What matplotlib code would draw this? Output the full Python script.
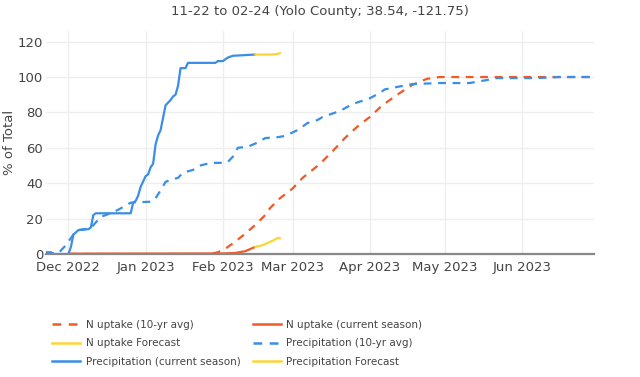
import pandas as pd
import matplotlib
matplotlib.use("Agg")
import matplotlib.pyplot as plt
from matplotlib.lines import Line2D

# values
n_avg_dates = ["2022-12-01", "2023-01-27", "2023-01-30", "2023-02-02", "2023-02-06",
               "2023-02-10", "2023-02-14", "2023-02-18", "2023-02-20", "2023-02-24",
               "2023-03-01", "2023-03-05", "2023-03-09", "2023-03-12", "2023-03-17",
               "2023-03-22", "2023-03-27", "2023-04-01", "2023-04-06", "2023-04-12",
               "2023-04-18", "2023-04-24", "2023-04-29", "2023-06-30"]
n_avg_vals = [0, 0, 1, 3, 7, 11.5, 16.4, 22, 26, 31.6, 37, 43, 47.5, 51, 58,
              65.5, 72, 77.4, 84, 90, 95.5, 99, 100, 100]

n_cur_dates = ["2022-12-01", "2023-02-01", "2023-02-06", "2023-02-10", "2023-02-14"]
n_cur_vals = [0.2, 0.3, 0.6, 1.6, 4]

n_fc_dates = ["2023-02-14", "2023-02-17", "2023-02-21", "2023-02-23", "2023-02-24"]
n_fc_vals = [4, 5, 7.5, 9, 8.8]

p_avg_dates = ["2022-11-22", "2022-11-27", "2022-11-28", "2022-11-30", "2022-12-03",
               "2022-12-05", "2022-12-10", "2022-12-14", "2022-12-16", "2022-12-21",
               "2022-12-26", "2023-01-02", "2023-01-03", "2023-01-05", "2023-01-07",
               "2023-01-09", "2023-01-11", "2023-01-14", "2023-01-16", "2023-01-20",
               "2023-01-23", "2023-01-27", "2023-02-01", "2023-02-03", "2023-02-05",
               "2023-02-07", "2023-02-11", "2023-02-15", "2023-02-18", "2023-02-23",
               "2023-02-26", "2023-03-03", "2023-03-07", "2023-03-11", "2023-03-13",
               "2023-03-20", "2023-03-25", "2023-04-01", "2023-04-05", "2023-04-07",
               "2023-04-12", "2023-04-18", "2023-04-29", "2023-05-11", "2023-05-18",
               "2023-05-22", "2023-06-07", "2023-06-16", "2023-06-30"]
p_avg_vals = [0.5, 0.5, 2, 5, 11, 13.5, 14.7, 21, 22, 25, 29, 29.5, 29.5, 31.5, 36,
              40.7, 42, 43, 46, 47.5, 50, 51.5, 51.5, 52, 55, 60, 60.6, 63, 65.5, 66,
              66.7, 70, 74, 75.7, 77.4, 80.8, 84.7, 88, 91, 93, 94.4, 96, 96.6, 96.6,
              98.3, 99.4, 99.4, 100, 100]

p_cur_dates = ["2022-11-22", "2022-11-24", "2022-11-25", "2022-12-01", "2022-12-02",
               "2022-12-03", "2022-12-05", "2022-12-09", "2022-12-10", "2022-12-11",
               "2022-12-12", "2022-12-26", "2022-12-27", "2022-12-28", "2022-12-29",
               "2022-12-30", "2023-01-01", "2023-01-02", "2023-01-03", "2023-01-04",
               "2023-01-05", "2023-01-06", "2023-01-07", "2023-01-08", "2023-01-09",
               "2023-01-11", "2023-01-12", "2023-01-13", "2023-01-14", "2023-01-15",
               "2023-01-17", "2023-01-18", "2023-01-29", "2023-01-30", "2023-02-01",
               "2023-02-03", "2023-02-05", "2023-02-14"]
p_cur_vals = [1, 1, 0, 0, 4, 11, 13.5, 14, 15, 22, 23, 23, 29, 30, 33, 38, 44, 45,
              49, 51, 62, 67, 70, 77, 84, 87, 89, 90, 95, 105, 105, 108, 108, 109,
              109, 111, 112, 112.7]

p_fc_dates = ["2023-02-14", "2023-02-20", "2023-02-23", "2023-02-24"]
p_fc_vals = [112.7, 112.7, 113, 113.6]

month_ticks = ["2022-12-01", "2023-01-01", "2023-02-01", "2023-03-01",
               "2023-04-01", "2023-05-01", "2023-06-01"]
month_labels = ["Dec 2022", "Jan 2023", "Feb 2023", "Mar 2023",
                "Apr 2023", "May 2023", "Jun 2023"]

ORANGE = "#f05a28"
BLUE = "#3a8ee6"
YELLOW = "#fcd535"
TXT = "#444444"

fig = plt.figure(figsize=(6.4, 3.77), dpi=100)
ax = fig.add_axes([46 / 640, 1 - 254 / 377, 548 / 640, 223 / 377])

dash = (3.5, 3)
series = [
    (n_avg_dates, n_avg_vals, ORANGE, True, "N uptake (10-yr avg)"),
    (n_cur_dates, n_cur_vals, ORANGE, False, "N uptake (current season)"),
    (n_fc_dates, n_fc_vals, YELLOW, False, "N uptake Forecast"),
    (p_avg_dates, p_avg_vals, BLUE, True, "Precipitation (10-yr avg)"),
    (p_cur_dates, p_cur_vals, BLUE, False, "Precipitation (current season)"),
    (p_fc_dates, p_fc_vals, YELLOW, False, "Precipitation Forecast"),
]
handles = []
for dates, vals, color, dashed, label in series:
    ln, = ax.plot(pd.to_datetime(dates), vals, color=color, lw=1.6,
                  solid_capstyle="round", label=label)
    if dashed:
        ln.set_dashes(dash)
    handles.append(ln)

ax.set_xlim(pd.Timestamp("2022-11-22"), pd.Timestamp("2023-06-30"))
ax.set_ylim(0, 126)
ax.set_xticks(pd.to_datetime(month_ticks))
ax.set_xticklabels(month_labels)
ax.set_yticks([0, 20, 40, 60, 80, 100, 120])
ax.tick_params(length=0, labelsize=9.5, colors=TXT)
ax.tick_params(axis="y", pad=2)
ax.tick_params(axis="x", pad=5)
ax.grid(True, color="#eeeeee", lw=1)
ax.set_axisbelow(True)
for s in ["top", "right", "left"]:
    ax.spines[s].set_visible(False)
ax.spines["bottom"].set_color("#888888")
ax.spines["bottom"].set_linewidth(1.6)

fig.text(10 / 640, 1 - 142 / 377, "% of Total", rotation=90,
         ha="center", va="center", fontsize=9.5, color=TXT)
fig.text(0.5, 1 - 12 / 377, "11-22 to 02-24 (Yolo County; 38.54, -121.75)",
         ha="center", va="center", fontsize=9.5, color=TXT)

# legend fills column-wise, reorder to match the row layout
order = [0, 2, 4, 1, 3, 5]
leg_handles = []
for i in order:
    h = handles[i]
    lh = Line2D([], [], color=h.get_color(), lw=1.8)
    if h.get_linestyle() == "--":
        lh.set_dashes(dash)
    leg_handles.append(lh)
leg = fig.legend(leg_handles, [handles[i].get_label() for i in order],
                 ncol=2, loc="upper left", bbox_to_anchor=(52 / 640, 1 - 320 / 377),
                 frameon=False, fontsize=7.5, handlelength=2.7, handletextpad=0.55,
                 columnspacing=1.15, labelspacing=0.8, borderaxespad=0, borderpad=0)
for t in leg.get_texts():
    t.set_color(TXT)

fig.savefig("out.png", dpi=100)
